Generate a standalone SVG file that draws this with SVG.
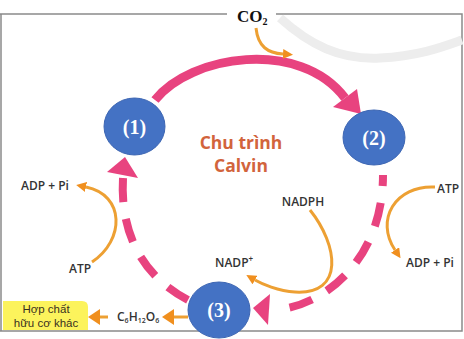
<svg xmlns="http://www.w3.org/2000/svg" width="464" height="339" viewBox="0 0 464 339">
<defs>
<style>
.frame{fill:none;stroke:#8a8a8a;stroke-width:1.5}
.pink{fill:none;stroke:#e8437f;stroke-width:9}
.dash{fill:none;stroke:#e8437f;stroke-width:8;stroke-dasharray:24 17}
.ph{fill:#e8437f}
.or{fill:none;stroke:#eda033;stroke-width:3}
.oh{fill:#f08f1e}
.lbl{font-family:"Open Sans","Liberation Sans",sans-serif;font-size:12px;font-weight:600;fill:#333}
.box{font-family:"Liberation Sans",sans-serif;font-size:11.5px;fill:#3a3020;text-anchor:middle}
.num{font-family:"Liberation Serif",serif;font-weight:bold;font-size:20px;fill:#fff;text-anchor:middle}
.node{fill:#4472c4;stroke:#3d66b3;stroke-width:1}
</style>
<marker id="oa" viewBox="0 0 10 10" refX="0" refY="5" markerWidth="10" markerHeight="10" markerUnits="userSpaceOnUse" orient="auto">
<path d="M0,0 L10,5 L0,10 Z" fill="#f08f1e"/>
</marker>
</defs>
<rect width="464" height="339" fill="#fff"/>
<g id="frame">
<path class="frame" d="M0,14 H227 M276,14 H462 V331 H0 M1,14 V331"/>
<path d="M280,18 C310,45 340,60 380,58 C420,56 445,46 462,40" fill="none" stroke="#ededed" stroke-width="9"/>
</g>
<g id="title">
<text x="241" y="149" font-family="'Open Sans','Liberation Sans',sans-serif" font-weight="bold" font-size="17.5" fill="#d2643c" text-anchor="middle">Chu trình</text>
<text x="241" y="172" font-family="'Open Sans','Liberation Sans',sans-serif" font-weight="bold" font-size="17.5" fill="#d2643c" text-anchor="middle">Calvin</text>
</g>
<g id="connectors">
<path class="pink" d="M155,100 C190,55 300,38 345,98"/>
<polygon class="ph" points="333,107 357,89 361,114"/>
<path class="dash" d="M383,175 C383,255 330,302 282,309" stroke-dashoffset="13"/>
<polygon class="ph" points="253,308 270,294 268,325"/>
<path class="dash" d="M123,178 C120,230 140,275 188,300" stroke-dasharray="25 19"/>
<polygon class="ph" points="125,157 107,172 138,178"/>
<path class="or" d="M256,28 C258,47 268,53 283,54" marker-end="url(#oa)"/>
<path class="or" d="M92,262 C125,240 125,195 86,187" marker-end="url(#oa)"/>
<path class="or" d="M435,187 C395,185 375,220 395,250" marker-end="url(#oa)"/>
<path class="or" d="M310,210 C338,245 345,295 295,292 C278,291 262,284 255,280" marker-end="url(#oa)"/>
<line class="or" x1="108" y1="317" x2="98" y2="317" stroke-width="4"/>
<polygon class="oh" points="88,317 100,309 100,325"/>
<line class="or" x1="188" y1="317" x2="172" y2="317" stroke-width="4"/>
<polygon class="oh" points="162,317 174,309 174,325"/>
</g>
<g id="co2">
<text x="237" y="22" font-family="'Liberation Serif',serif" font-weight="bold" font-size="17" fill="#111">CO<tspan font-size="10" dy="3">2</tspan></text>
</g>
<g id="node1">
<ellipse class="node" cx="134.5" cy="126.5" rx="30.5" ry="28.5"/>
<text class="num" x="134.5" y="133.5">(1)</text>
</g>
<g id="node2">
<ellipse class="node" cx="374" cy="137.5" rx="31" ry="27.5"/>
<text class="num" x="374" y="144.5">(2)</text>
</g>
<g id="node3">
<ellipse class="node" cx="219" cy="310" rx="31" ry="28"/>
<text class="num" x="219" y="317">(3)</text>
</g>
<g id="labels">
<text class="lbl" x="21" y="190">ADP + Pi</text>
<text class="lbl" x="80" y="273" text-anchor="middle">ATP</text>
<text class="lbl" x="437" y="193">ATP</text>
<text class="lbl" x="406" y="267">ADP + Pi</text>
<text class="lbl" x="303" y="206" text-anchor="middle">NADPH</text>
<text class="lbl" x="215" y="267">NADP<tspan font-size="8" dy="-5">+</tspan></text>
<text class="lbl" x="117" y="321">C<tspan font-size="7" dy="2">6</tspan><tspan dy="-2">H</tspan><tspan font-size="7" dy="2">12</tspan><tspan dy="-2">O</tspan><tspan font-size="7" dy="2">6</tspan></text>
</g>
<g id="box">
<path d="M3,301 H82 Q88,301 88,307 V330 H3 Z" fill="#fcf35c"/>
<text class="box" x="46" y="313">Hợp chất</text>
<text class="box" x="46" y="326.5">hữu cơ khác</text>
</g>
</svg>
